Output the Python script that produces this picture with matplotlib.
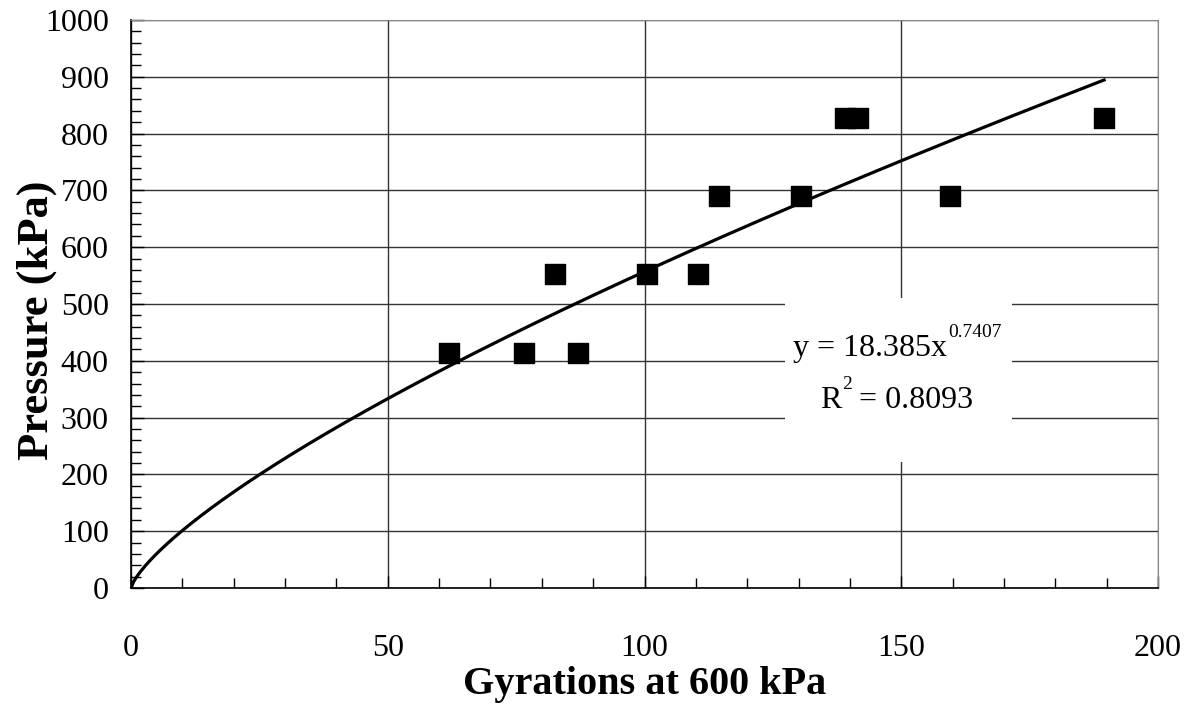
import matplotlib
matplotlib.use('Agg')
import matplotlib.pyplot as plt
import numpy as np
from matplotlib.patches import Rectangle
from matplotlib.ticker import MultipleLocator

plt.rcParams['font.family'] = ['Liberation Serif', 'DejaVu Serif']

# 数据
gyrations = [62, 76.5, 82.5, 87, 100.5, 110.5, 114.5, 130.5, 139, 141.5, 159.5, 189.5]
pressure = [414, 414, 552, 414, 552, 552, 690, 690, 828, 828, 690, 828]

# 幂函数拟合 y = a * x^b
coef_a = 18.385
coef_b = 0.7407
r_squared = 0.8093

fig = plt.figure(figsize=(11.86, 7.08), dpi=100)
ax = fig.add_axes([0.1105, 0.1695, 0.8659, 0.8023])

ax.scatter(gyrations, pressure, marker='s', s=19 ** 2 * 0.52, color='black', zorder=4)

x_fit = np.linspace(0, max(gyrations), 400)
ax.plot(x_fit, coef_a * x_fit ** coef_b, color='black', lw=2.3, zorder=5)

ax.set_xlim(0, 200)
ax.set_ylim(0, 1000)
ax.xaxis.set_major_locator(MultipleLocator(50))
ax.xaxis.set_minor_locator(MultipleLocator(10))
ax.yaxis.set_major_locator(MultipleLocator(100))
ax.yaxis.set_minor_locator(MultipleLocator(20))
ax.grid(True, which='major', color='#333333', lw=1.0)

ax.tick_params(which='both', direction='in', top=False, right=False, labelsize=23)
ax.tick_params(axis='x', which='both', pad=33)
ax.tick_params(axis='y', which='both', pad=16)
ax.tick_params(which='major', length=9, width=1)
ax.tick_params(which='minor', length=7, width=1)

for side in ['top', 'right']:
    ax.spines[side].set_color('#888888')
for side in ['left', 'bottom']:
    ax.spines[side].set_color('black')
    ax.spines[side].set_linewidth(1.2)

# 方程标注框
ax.add_patch(Rectangle((127.4, 222), 44.2, 288.6, facecolor='white', edgecolor='none', zorder=3))
ax.text(158.9, 408.5, f'y = {coef_a}x', ha='right', va='baseline', fontsize=23, zorder=6)
ax.text(159.1, 441, f'{coef_b}', ha='left', va='baseline', fontsize=14, zorder=6)
ax.text(138.3, 317, 'R', ha='right', va='baseline', fontsize=23, zorder=6)
ax.text(138.5, 350, '2', ha='left', va='baseline', fontsize=14, zorder=6)
ax.text(140.2, 317, f' = {r_squared}', ha='left', va='baseline', fontsize=23, zorder=6)

ax.set_xlabel('Gyrations at 600 kPa', fontsize=29, fontweight='bold', labelpad=2)
ax.set_ylabel('Pressure (kPa)', fontsize=32, fontweight='bold')
ax.yaxis.set_label_coords(-0.072, 0.472)

fig.savefig('out.png', dpi=100)
